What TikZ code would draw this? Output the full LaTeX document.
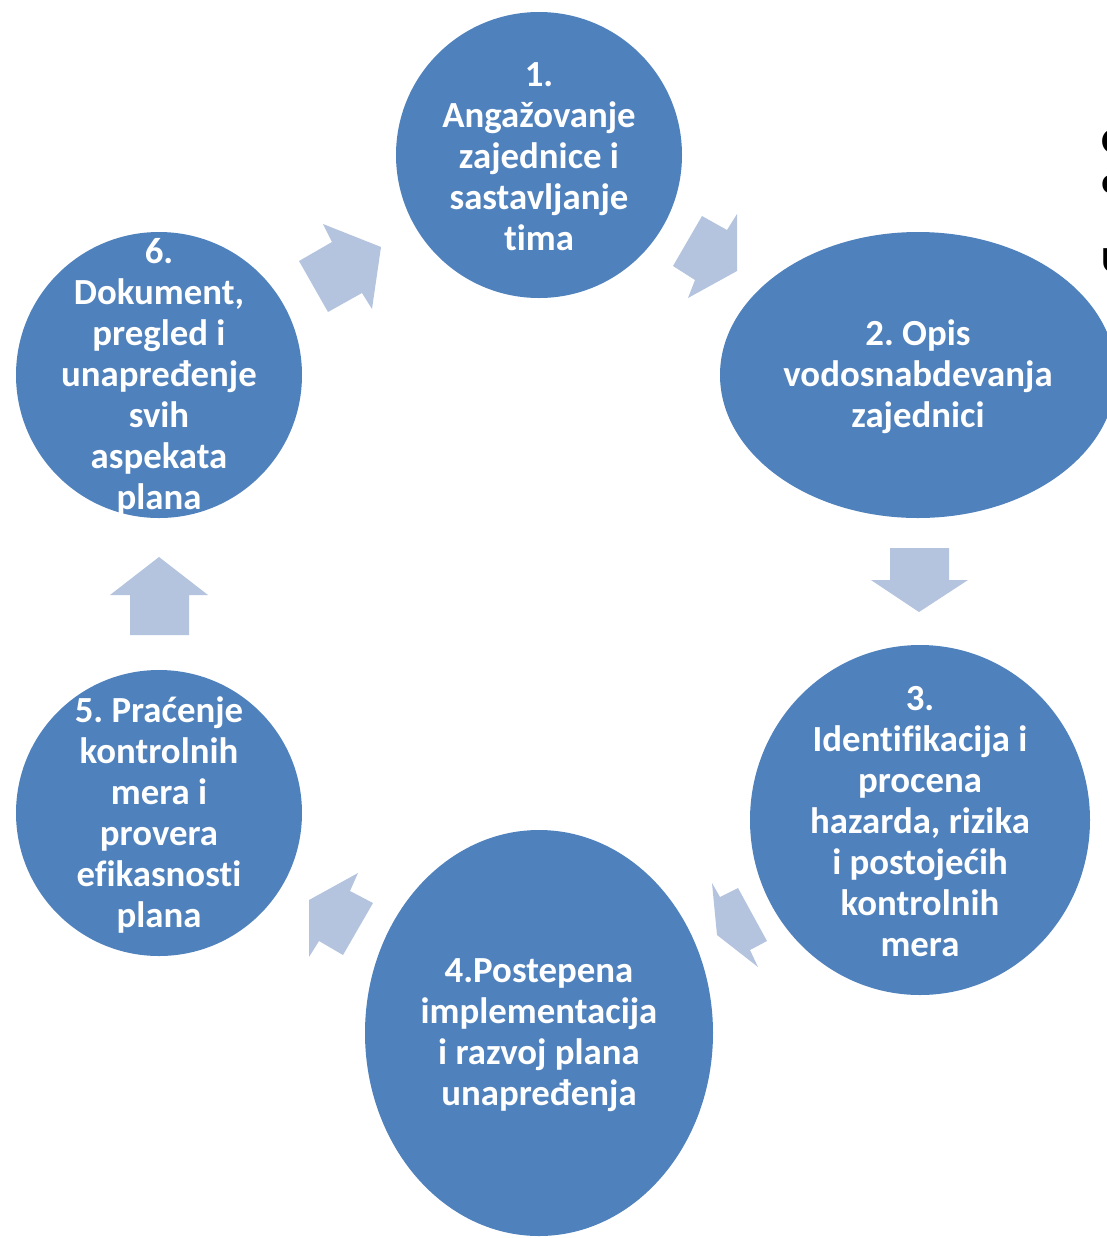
\documentclass[tikz,border=0pt]{standalone}
\usepackage{fontspec}
\setmainfont{Carlito}[Ligatures=CommonOff]
\usepackage{xcolor}
\usetikzlibrary{shapes.geometric}

\definecolor{stageblue}{HTML}{4F81BD}
\definecolor{arrowblue}{HTML}{B4C3DE}

\begin{document}
\frenchspacing
\begin{tikzpicture}[
  x=0.5pt, y=-0.5pt,
  stage/.style={ellipse, fill=stageblue, draw=none, inner sep=0pt},
  stagetext/.style={text=white, align=center, inner sep=0pt,
    font=\bfseries\fontsize{18.4}{20.5}\selectfont},
  blockarrow/.style={fill=arrowblue, draw=none},
  sidetext/.style={anchor=base west, inner sep=0pt,
    font=\bfseries\fontsize{18.4}{20}\selectfont}
]
\useasboundingbox (0,0) rectangle (1107,1238);

% stages of the cycle
\node[stage, minimum width=143pt, minimum height=143pt] (s1) at (539,155) {};
\node[stage, minimum width=198pt, minimum height=143pt] (s2) at (918,375) {};
\node[stage, minimum width=170pt, minimum height=175pt] (s3) at (920,820) {};
\node[stage, minimum width=174pt, minimum height=203pt] (s4) at (539,1033) {};
\node[stage, minimum width=143pt, minimum height=143pt] (s5) at (159,813) {};
\node[stage, minimum width=143pt, minimum height=143pt] (s6) at (159,375) {};

\node[stagetext] (t1) at ([yshift=-1pt]s1) {1.\\Angažovanje\\zajednice i\\sastavljanje\\tima};
\node[stagetext] (t2) at ([yshift=-1pt]s2) {2. Opis\\vodosnabdevanja\\zajednici};
\node[stagetext] (t3) at ([yshift=-1pt]s3) {3.\\Identifikacija i\\procena\\hazarda, rizika\\i postojećih\\kontrolnih\\mera};
\node[stagetext] (t4) at ([yshift=-1pt]s4) {4.Postepena\\implementacija\\i razvoj plana\\unapređenja};
\node[stagetext] (t5) at ([yshift=-1pt]s5) {5. Praćenje\\kontrolnih\\mera i\\provera\\efikasnosti\\plana};
\node[stagetext] (t6) at ([yshift=-1pt]s6) {6.\\Dokument,\\pregled i\\unapređenje\\svih\\aspekata\\plana};

% block arrows between stages
\fill[blockarrow] (323,224) -- (332,242) -- (299,261) -- (328,312) -- (362,293) -- (372,309) -- (381,247) -- cycle; % 6 -> 1
\fill[blockarrow] (702,216) -- (727,230) -- (737,214) -- (737,271) -- (688,298) -- (695,280) -- (673,266) -- cycle; % 1 -> 2
\fill[blockarrow] (890,548) -- (949,548) -- (949,580) -- (968,580) -- (919,612) -- (871,580) -- (890,580) -- cycle; % 2 -> 3
\fill[blockarrow] (712,883) -- (720,897) -- (738,888) -- (767,941) -- (750,950) -- (758,967) -- (717,935) -- cycle; % 3 -> 4
\fill[blockarrow] (358,873) -- (350,891) -- (373,903) -- (343,955) -- (319,941) -- (309,957) -- (309,900) -- cycle; % 4 -> 5
\fill[blockarrow] (130,635) -- (189,635) -- (189,595) -- (208,595) -- (159,557) -- (110,595) -- (130,595) -- cycle; % 5 -> 6

% text cut off at the right edge
\node[sidetext] (r1) at (1101,153) {O};
\node[sidetext] (r2) at (1101,193) {o};
\node[sidetext] (r3) at (1101,272) {U};
\end{tikzpicture}
\end{document}
